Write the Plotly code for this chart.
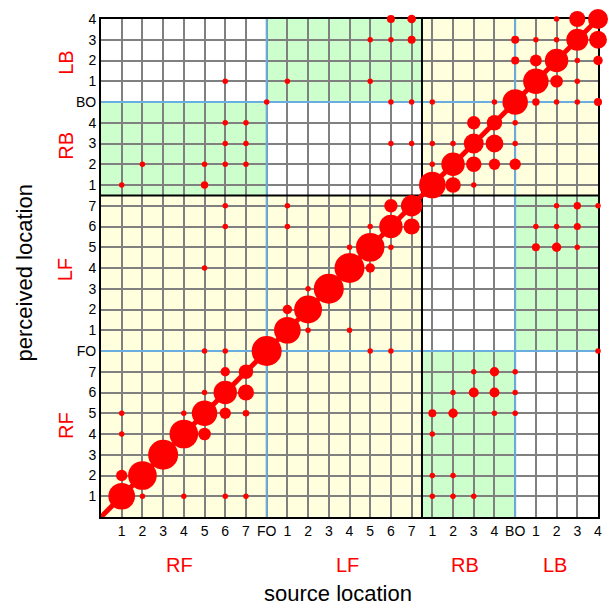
import plotly.graph_objects as go

# ---- categories (axis order) ----
categories = (["RF1", "RF2", "RF3", "RF4", "RF5", "RF6", "RF7", "FO"]
              + ["LF1", "LF2", "LF3", "LF4", "LF5", "LF6", "LF7"]
              + ["RB1", "RB2", "RB3", "RB4", "BO"]
              + ["LB1", "LB2", "LB3", "LB4"])
tick_labels = ["1", "2", "3", "4", "5", "6", "7", "FO",
               "1", "2", "3", "4", "5", "6", "7",
               "1", "2", "3", "4", "BO",
               "1", "2", "3", "4"]
group_names = ["RF", "LF", "RB", "LB"]

# ---- responses: source, perceived, percentage ----
source = [
    "RF1", "RF1", "RF2", "RF2", "RF4", "RF6", "RF7", "RF3", "RF1", "RF1",
    "RF4", "RF5", "RF4", "RF5", "RF6", "RF7", "RF5", "RF6", "RF7", "RF6",
    "RF7", "RF5", "RF6", "FO",
    "LF1", "LF2", "LF4", "LF1", "LF2", "LF2", "LF3", "RF5", "LF4", "LF5",
    "LF4", "LF5", "LF6", "RF6", "LF1", "LF5", "LF6", "LF7", "RF6", "LF1",
    "LF6", "LF7",
    "LB2", "LB3", "LB4", "LB1", "LB2", "LB3", "LB1", "LB2", "LB3",
    "LF5", "LF6", "LB4",
    "RB3", "RB4", "BO", "RB2", "RB3", "RB4", "BO", "RB1", "RB2", "RB4",
    "BO", "RB1", "RB1", "RB2", "RB1", "RB2", "RB3",
    "RF1", "RF5", "RB1", "RB2", "RB3",
    "RF2", "RF5", "RF6", "RF7", "RB1", "RB2", "RB3", "RB4", "BO",
    "RF6", "RF7", "LF6", "LF7", "RB1", "RB2", "RB3", "RB4", "BO",
    "RF6", "RF7", "RB3", "RB4", "BO",
    "FO", "LF6", "LF7", "RB1", "RB4", "BO", "LB1", "LB2", "LB3", "LB4",
    "RF6", "LF1", "LF5", "LB1", "LB2", "LB3",
    "BO", "LB1", "LB2", "LB3", "LB4",
    "LF5", "LF6", "LF7", "BO", "LB1", "LB2", "LB3", "LB4",
    "LF6", "LF7", "LB2", "LB3", "LB4",
]
perceived = [
    "RF1", "RF2", "RF2", "RF1", "RF1", "RF1", "RF1", "RF3", "RF4", "RF5",
    "RF4", "RF4", "RF5", "RF5", "RF5", "RF5", "RF6", "RF6", "RF6", "RF7",
    "RF7", "FO", "FO", "FO",
    "LF1", "LF1", "LF1", "LF2", "LF2", "LF3", "LF3", "LF4", "LF4", "LF4",
    "LF5", "LF5", "LF5", "LF6", "LF6", "LF6", "LF6", "LF6", "LF7", "LF7",
    "LF7", "LF7",
    "LF7", "LF7", "LF7", "LF6", "LF6", "LF6", "LF5", "LF5", "LF5",
    "FO", "FO", "FO",
    "RF7", "RF7", "RF7", "RF6", "RF6", "RF6", "RF6", "RF5", "RF5", "RF5",
    "RF5", "RF4", "RF2", "RF2", "RF1", "RF1", "RF1",
    "RB1", "RB1", "RB1", "RB1", "RB1",
    "RB2", "RB2", "RB2", "RB2", "RB2", "RB2", "RB2", "RB2", "RB2",
    "RB3", "RB3", "RB3", "RB3", "RB3", "RB3", "RB3", "RB3", "RB3",
    "RB4", "RB4", "RB4", "RB4", "RB4",
    "BO", "BO", "BO", "BO", "BO", "BO", "BO", "BO", "BO", "BO",
    "LB1", "LB1", "LB1", "LB1", "LB1", "LB1",
    "LB2", "LB2", "LB2", "LB2", "LB2",
    "LB3", "LB3", "LB3", "LB3", "LB3", "LB3", "LB3", "LB3",
    "LB4", "LB4", "LB4", "LB4", "LB4",
]
percent = [
    71, 13, 82, 3, 3, 3, 3, 90, 3, 3,
    82, 16, 3, 65, 13, 4.4, 3, 55, 26, 9,
    21, 3, 3, 90,
    71, 3, 3, 9, 78, 3, 90, 3, 90, 9,
    3, 82, 3, 3, 3, 3, 55, 26, 3, 3,
    18, 46,
    3, 5.5, 3, 3, 3, 5, 6.4, 9, 3,
    3, 3, 3,
    3, 9, 3, 3, 10, 10, 3, 6.4, 9, 3,
    3, 3, 3, 3, 3, 3, 3,
    3, 5.5, 71, 24, 3,
    3, 3, 3, 3, 3, 55, 24, 13, 13,
    3, 3, 3, 3, 3, 3, 40, 32, 3,
    3, 3, 18, 24, 3,
    3, 3, 3, 3, 3, 65, 5.5, 3, 3, 6.4,
    3, 3, 3, 65, 16, 3,
    6.4, 14, 55, 3, 9,
    3, 3, 6.4, 6.4, 3, 3, 48, 32,
    6.4, 7.4, 3, 26, 40,
]

pos = {c: i + 1 for i, c in enumerate(categories)}
xs = [pos[s] for s in source]
ys = [pos[p] for p in perceived]
n = len(categories)

i_fo = pos["FO"]
i_bo = pos["BO"]
i_fb = pos["LF7"] + 0.5  # front / back divider

YEL = "#FFFFDD"
GRN = "#CCFFCC"
shapes = []


def rect(x0, x1, y0, y1, color):
    shapes.append(dict(type="rect", xref="x", yref="y", x0=x0, x1=x1, y0=y0, y1=y1,
                       fillcolor=color, line=dict(width=0), layer="below"))


rect(0, i_fb, 0, i_fb, YEL)
rect(i_fb, n, i_fb, n, YEL)
rect(i_fb, i_bo, 0, i_fo, GRN)
rect(i_bo, n, i_fo, i_fb, GRN)
rect(0, i_fo, i_fb, i_bo, GRN)
rect(i_fo, i_fb, i_bo, n, GRN)

BLUE = "#6AAEE0"
for v in (i_fo, i_bo):
    shapes.append(dict(type="line", xref="x", yref="y", x0=v, x1=v, y0=0, y1=n,
                       line=dict(color=BLUE, width=2), layer="between"))
    shapes.append(dict(type="line", xref="x", yref="y", x0=0, x1=n, y0=v, y1=v,
                       line=dict(color=BLUE, width=2), layer="between"))
shapes.append(dict(type="line", xref="x", yref="y", x0=i_fb, x1=i_fb, y0=0, y1=n,
                   line=dict(color="black", width=2), layer="between"))
shapes.append(dict(type="line", xref="x", yref="y", x0=0, x1=n, y0=i_fb, y1=i_fb,
                   line=dict(color="black", width=2), layer="between"))

fig = go.Figure()
fig.add_trace(go.Scatter(x=[0, n], y=[0, n], mode="lines",
                         line=dict(color="#FF0000", width=5),
                         hoverinfo="skip", showlegend=False, cliponaxis=True))
fig.add_trace(go.Scatter(x=xs, y=ys, mode="markers",
                         marker=dict(size=percent, sizemode="area", sizeref=0.2,
                                     color="#FF0000", line=dict(width=0), opacity=1),
                         showlegend=False, cliponaxis=False))

FONT = "Liberation Sans, Arial, sans-serif"
axis_common = dict(range=[0, n], tickmode="array", tickvals=list(range(1, n + 1)),
                   ticktext=tick_labels, showgrid=True, gridcolor="#808080", gridwidth=1.5,
                   zeroline=False, showline=True, linecolor="black", linewidth=2,
                   mirror=True, ticks="", tickfont=dict(family=FONT, size=14, color="black"),
                   layer="below traces", fixedrange=True)
fig.update_layout(
    width=613, height=607,
    margin=dict(l=101, r=11, t=16, b=90),
    plot_bgcolor="white", paper_bgcolor="white",
    xaxis=axis_common, yaxis=axis_common,
    shapes=shapes,
    showlegend=False,
)

# group labels
x_group_pos = [3.8, 11.9, 17.6, 21.9]
y_group_pos = [4.4, 11.9, 17.9, 21.9]
annotations = []
for name, xp in zip(group_names, x_group_pos):
    annotations.append(dict(x=xp, y=-0.096, xref="x", yref="paper", text=name,
                            showarrow=False, font=dict(family=FONT, size=20, color="#FF0000"),
                            xanchor="center", yanchor="middle"))
for name, yp in zip(group_names, y_group_pos):
    annotations.append(dict(x=-0.072, y=yp, xref="paper", yref="y", text=name, textangle=-90,
                            showarrow=False, font=dict(family=FONT, size=20, color="#FF0000"),
                            xanchor="center", yanchor="middle"))
annotations.append(dict(x=0.477, y=-0.154, xref="paper", yref="paper", text="source location",
                        showarrow=False, font=dict(family=FONT, size=22, color="black"),
                        xanchor="center", yanchor="middle"))
annotations.append(dict(x=-0.152, y=0.49, xref="paper", yref="paper", text="perceived location",
                        textangle=-90, showarrow=False,
                        font=dict(family=FONT, size=22, color="black"),
                        xanchor="center", yanchor="middle"))
fig.update_layout(annotations=annotations)

fig.write_html("out.html", config={"displayModeBar": False},
               post_script="document.body.style.margin='0';document.body.style.overflow='hidden';")
